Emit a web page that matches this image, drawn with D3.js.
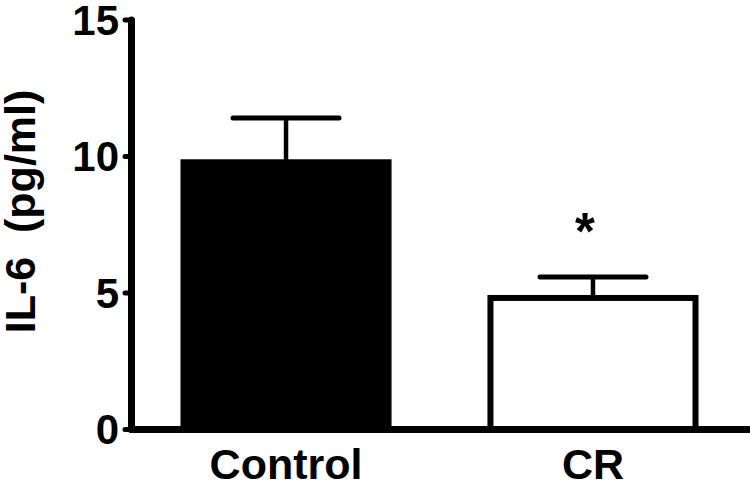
<!DOCTYPE html>
<html>
<head>
<meta charset="utf-8">
<script src="https://cdn.jsdelivr.net/npm/d3@7"></script>
<style>
  html, body { margin: 0; padding: 0; background: #fff; }
  svg { display: block; }
  text { font-family: "Liberation Sans", Arial, sans-serif; font-weight: bold; fill: #000; }
</style>
</head>
<body>
<svg id="chart" width="750" height="483"></svg>
<script>
const categories = ["Control", "CR"];
const means = [9.77, 4.80];
const sems = [1.62, 0.77];
const fills = ["#000000", "#ffffff"];
const significance = ["", "*"];
const yTicks = [0, 5, 10, 15];
const yLabel = "IL-6  (pg/ml)";

const svg = d3.select("#chart");

const y = d3.scaleLinear().domain([0, 15]).range([429, 19.5]);
const x = d3.scaleBand().domain(categories).range([131, 748])
  .paddingInner(0.332).paddingOuter(0.171);

// bars
svg.append("g").selectAll("rect").data(categories).join("rect")
  .attr("x", d => x(d))
  .attr("width", x.bandwidth())
  .attr("y", (d, i) => y(means[i]))
  .attr("height", (d, i) => y(0) - y(means[i]))
  .attr("fill", (d, i) => fills[i])
  .attr("stroke", "#000")
  .attr("stroke-width", 6);

// error bars (upper only)
const eb = svg.append("g");
categories.forEach((c, i) => {
  const cx = x(c) + x.bandwidth() / 2;
  eb.append("line")
    .attr("x1", cx).attr("x2", cx)
    .attr("y1", y(means[i])).attr("y2", y(means[i] + sems[i]))
    .attr("stroke", "#000").attr("stroke-width", 4.5);
  eb.append("line")
    .attr("x1", cx - 53).attr("x2", cx + 53)
    .attr("y1", y(means[i] + sems[i])).attr("y2", y(means[i] + sems[i]))
    .attr("stroke", "#000").attr("stroke-width", 5).attr("stroke-linecap", "round");
  if (significance[i]) {
    svg.append("text")
      .attr("x", cx - 8)
      .attr("y", y(means[i] + sems[i]) - 28)
      .attr("text-anchor", "middle")
      .style("font-size", "51px")
      .text(significance[i]);
  }
});

// y axis
const yAxis = svg.append("g").attr("transform", "translate(131,0)")
  .call(d3.axisLeft(y).tickValues(yTicks).tickSize(6).tickSizeOuter(0).tickPadding(6).tickFormat(d3.format("d")));
yAxis.select(".domain").attr("stroke", "#000").attr("stroke-width", 7).attr("stroke-linecap", "round");
yAxis.selectAll(".tick line").attr("stroke", "#000").attr("stroke-width", 5).attr("stroke-linecap", "round");
yAxis.selectAll(".tick text").style("font-size", "42px").attr("dy", "0.35em").attr("font-family", null);

// x axis
const xAxis = svg.append("g").attr("transform", "translate(0,429)")
  .call(d3.axisBottom(x).tickSize(0).tickSizeOuter(0).tickPadding(0));
xAxis.select(".domain").attr("stroke", "#000").attr("stroke-width", 7).attr("stroke-linecap", "round");
xAxis.selectAll(".tick text").style("font-size", "43px").attr("y", 50).attr("dy", 0).attr("font-family", null);

// y label
svg.append("text")
  .attr("transform", "translate(35,211.5) rotate(-90)")
  .attr("text-anchor", "middle")
  .style("font-size", "43px")
  .style("white-space", "pre")
  .text(yLabel);
</script>
</body>
</html>
